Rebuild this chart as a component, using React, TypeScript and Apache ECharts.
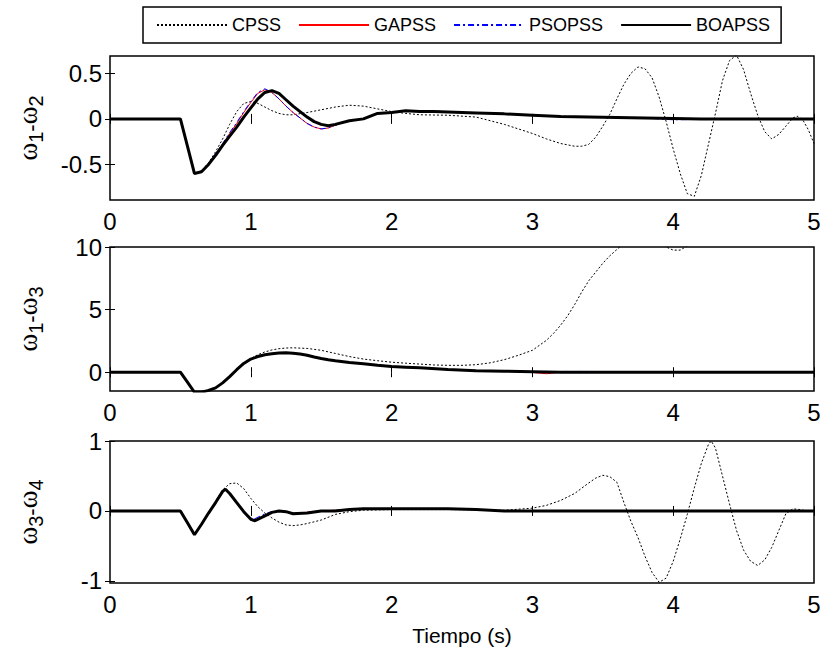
import React, { useEffect, useRef } from 'react';
import * as echarts from 'echarts';

const FONT = "'Liberation Sans', Arial, Helvetica, sans-serif";

// ---------- Panel 1 : w1 - w2 ----------
const T1 = [0, 0.5, 0.55, 0.6, 0.65, 0.7, 0.75, 0.8, 0.85, 0.9, 0.95, 1.0, 1.05, 1.1, 1.15, 1.2, 1.25, 1.3, 1.35, 1.4, 1.45, 1.5, 1.55, 1.6, 1.7, 1.8, 1.9, 2.0, 2.1, 2.2, 2.3, 2.4, 2.6, 2.8, 3.0, 3.2, 3.4, 3.6, 3.8, 4.0, 4.2, 4.5, 5.0];
const BOA1 = [0, 0, -0.3, -0.6, -0.58, -0.5, -0.4, -0.29, -0.19, -0.09, 0.02, 0.12, 0.22, 0.29, 0.31, 0.28, 0.21, 0.14, 0.08, 0.02, -0.03, -0.06, -0.075, -0.06, -0.02, 0.0, 0.06, 0.07, 0.09, 0.08, 0.08, 0.075, 0.065, 0.055, 0.04, 0.025, 0.02, 0.015, 0.01, 0.005, 0, 0, 0];
const GA1 = [0, 0, -0.3, -0.6, -0.58, -0.49, -0.39, -0.28, -0.16, -0.05, 0.07, 0.18, 0.28, 0.32, 0.29, 0.22, 0.14, 0.07, 0.01, -0.05, -0.09, -0.11, -0.1, -0.07, -0.02, 0.0, 0.06, 0.07, 0.09, 0.08, 0.08, 0.075, 0.065, 0.055, 0.04, 0.025, 0.02, 0.015, 0.01, 0.005, 0, 0, 0];
const PSO1 = [0, 0, -0.3, -0.6, -0.58, -0.49, -0.38, -0.27, -0.15, -0.04, 0.08, 0.19, 0.29, 0.33, 0.29, 0.22, 0.14, 0.07, 0.01, -0.05, -0.09, -0.11, -0.1, -0.07, -0.02, 0.0, 0.06, 0.07, 0.09, 0.085, 0.09, 0.075, 0.065, 0.055, 0.04, 0.03, 0.02, 0.015, 0.01, -0.01, -0.005, 0, 0];
const TC1 = [0, 0.5, 0.55, 0.6, 0.65, 0.7, 0.75, 0.8, 0.85, 0.9, 0.95, 1.0, 1.05, 1.1, 1.15, 1.2, 1.25, 1.3, 1.4, 1.5, 1.6, 1.7, 1.8, 1.9, 2.0, 2.1, 2.2, 2.4, 2.6, 2.7, 2.8, 2.9, 3.0, 3.1, 3.2, 3.3, 3.35, 3.4, 3.45, 3.5, 3.55, 3.6, 3.65, 3.7, 3.75, 3.8, 3.85, 3.9, 3.95, 4.0, 4.05, 4.1, 4.15, 4.2, 4.25, 4.3, 4.35, 4.4, 4.45, 4.5, 4.55, 4.6, 4.65, 4.7, 4.75, 4.8, 4.85, 4.88, 4.92, 4.96, 5.0];
const CPSS1 = [0, 0, -0.3, -0.6, -0.57, -0.48, -0.36, -0.22, -0.06, 0.08, 0.17, 0.19, 0.17, 0.13, 0.09, 0.06, 0.045, 0.045, 0.07, 0.1, 0.13, 0.15, 0.14, 0.11, 0.08, 0.06, 0.045, 0.04, 0.02, -0.02, -0.06, -0.11, -0.16, -0.22, -0.27, -0.3, -0.3, -0.28, -0.2, -0.08, 0.05, 0.22, 0.38, 0.5, 0.57, 0.55, 0.45, 0.24, -0.03, -0.33, -0.6, -0.82, -0.85, -0.62, -0.28, 0.06, 0.42, 0.64, 0.7, 0.54, 0.28, 0.04, -0.14, -0.22, -0.17, -0.08, 0.01, 0.03, -0.01, -0.12, -0.27];

// ---------- Panel 2 : w1 - w3 ----------
const T2 = [0, 0.5, 0.55, 0.6, 0.65, 0.7, 0.75, 0.8, 0.85, 0.9, 0.95, 1.0, 1.05, 1.1, 1.15, 1.2, 1.25, 1.3, 1.35, 1.4, 1.45, 1.5, 1.55, 1.6, 1.7, 1.8, 1.9, 2.0, 2.1, 2.2, 2.4, 2.6, 2.8, 3.0, 3.1, 3.2, 3.4, 3.55, 3.6, 4.0, 5.0];
const BOA2 = [0, 0, -0.8, -1.6, -1.6, -1.45, -1.25, -0.85, -0.35, 0.2, 0.7, 1.05, 1.25, 1.4, 1.48, 1.53, 1.55, 1.52, 1.45, 1.35, 1.22, 1.1, 1.0, 0.92, 0.78, 0.68, 0.55, 0.45, 0.4, 0.35, 0.22, 0.12, 0.08, 0.04, 0.02, 0, 0, 0, 0, 0, 0];
const GA2 = [0, 0, -0.8, -1.6, -1.6, -1.45, -1.25, -0.85, -0.35, 0.2, 0.7, 1.05, 1.25, 1.4, 1.48, 1.53, 1.55, 1.52, 1.45, 1.35, 1.22, 1.1, 1.0, 0.92, 0.78, 0.68, 0.55, 0.45, 0.4, 0.35, 0.22, 0.12, 0.08, -0.02, -0.12, 0, 0, 0, 0, 0, 0];
const PSO2 = [0, 0, -0.8, -1.6, -1.6, -1.45, -1.25, -0.85, -0.35, 0.2, 0.7, 1.05, 1.25, 1.4, 1.48, 1.53, 1.55, 1.52, 1.45, 1.35, 1.22, 1.1, 1.0, 0.92, 0.78, 0.68, 0.55, 0.45, 0.4, 0.35, 0.22, 0.12, 0.08, 0.04, 0.02, 0.06, 0.06, 0.05, 0, 0, 0];
const TC2 = [0, 0.5, 0.55, 0.6, 0.65, 0.7, 0.75, 0.8, 0.85, 0.9, 0.95, 1.0, 1.05, 1.1, 1.15, 1.2, 1.25, 1.3, 1.4, 1.5, 1.6, 1.7, 1.8, 1.9, 2.0, 2.1, 2.2, 2.3, 2.4, 2.5, 2.6, 2.7, 2.8, 2.9, 3.0, 3.1, 3.15, 3.2, 3.25, 3.3, 3.35, 3.4, 3.45, 3.5, 3.55, 3.6, 3.65, 3.7, 3.8, 3.9, 3.95, 4.0, 4.05, 4.1, 4.2, 4.4, 4.7, 5.0];
const CPSS2 = [0, 0, -0.8, -1.6, -1.6, -1.45, -1.25, -0.85, -0.35, 0.2, 0.7, 1.1, 1.4, 1.62, 1.78, 1.88, 1.93, 1.95, 1.9, 1.75, 1.5, 1.25, 1.05, 0.92, 0.8, 0.72, 0.65, 0.58, 0.55, 0.55, 0.6, 0.75, 1.0, 1.35, 1.75, 2.55, 3.1, 3.75, 4.5, 5.4, 6.4, 7.3, 8.0, 8.7, 9.3, 9.8, 10.3, 10.9, 11.2, 10.6, 10.0, 9.75, 9.75, 10.1, 11.0, 12.5, 14.0, 15.0];

// ---------- Panel 3 : w3 - w4 ----------
const T3 = [0, 0.5, 0.55, 0.6, 0.65, 0.7, 0.75, 0.8, 0.82, 0.85, 0.9, 0.95, 1.0, 1.03, 1.1, 1.15, 1.2, 1.25, 1.3, 1.4, 1.5, 1.6, 1.7, 1.8, 2.0, 2.2, 2.4, 2.6, 2.8, 3.0, 5.0];
const BOA3 = [0, 0, -0.17, -0.34, -0.19, -0.03, 0.12, 0.28, 0.31, 0.25, 0.12, -0.01, -0.12, -0.14, -0.07, -0.02, 0.0, -0.01, -0.04, -0.03, 0.0, 0.0, 0.02, 0.03, 0.03, 0.03, 0.03, 0.02, 0.0, 0, 0];
const GA3 = [0, 0, -0.17, -0.34, -0.19, -0.03, 0.13, 0.29, 0.31, 0.26, 0.11, -0.02, -0.11, -0.13, -0.06, -0.02, 0.0, -0.01, -0.03, -0.02, 0.0, 0.01, 0.02, 0.03, 0.03, 0.03, 0.03, 0.02, 0.0, 0, 0];
const PSO3 = [0, 0, -0.17, -0.34, -0.19, -0.03, 0.13, 0.29, 0.31, 0.26, 0.11, -0.03, -0.1, -0.11, -0.04, -0.01, 0.0, -0.02, -0.03, -0.02, 0.0, 0.01, 0.02, 0.03, 0.03, 0.03, 0.03, 0.02, 0.0, 0, 0];
const TC3 = [0, 0.5, 0.55, 0.6, 0.65, 0.7, 0.75, 0.8, 0.85, 0.9, 0.95, 1.0, 1.05, 1.1, 1.15, 1.2, 1.25, 1.3, 1.35, 1.4, 1.5, 1.6, 1.7, 1.8, 2.0, 2.4, 2.8, 3.0, 3.1, 3.2, 3.3, 3.4, 3.45, 3.5, 3.55, 3.6, 3.65, 3.7, 3.75, 3.8, 3.85, 3.9, 3.95, 4.0, 4.05, 4.1, 4.15, 4.2, 4.25, 4.27, 4.3, 4.35, 4.4, 4.45, 4.5, 4.55, 4.6, 4.65, 4.7, 4.75, 4.8, 4.85, 4.9, 4.95, 5.0];
const CPSS3 = [0, 0, -0.17, -0.34, -0.19, -0.03, 0.14, 0.3, 0.39, 0.4, 0.32, 0.18, 0.06, -0.03, -0.1, -0.16, -0.2, -0.21, -0.2, -0.18, -0.13, -0.05, -0.01, 0.01, 0.02, 0.02, 0.01, 0.04, 0.08, 0.15, 0.25, 0.4, 0.47, 0.51, 0.49, 0.41, 0.12, -0.15, -0.38, -0.65, -0.88, -1.02, -0.96, -0.72, -0.4, -0.05, 0.33, 0.68, 0.95, 1.0, 0.9, 0.5, 0.1, -0.28, -0.56, -0.72, -0.78, -0.7, -0.52, -0.28, -0.04, 0.03, 0.02, 0, 0];

// ---------- axes ----------
const X_TICKS = [0, 1, 2, 3, 4, 5];
const Y_RANGES = [[-0.89, 0.69], [-1.5, 10], [-1.03, 1]];
const Y_TICKS = [[-0.5, 0, 0.5], [0, 5, 10], [-1, 0, 1]];
const Y_NAMES = [['1', '2'], ['1', '3'], ['3', '4']];
const LEGEND = ['CPSS', 'GAPSS', 'PSOPSS', 'BOAPSS'];
const X_NAME = 'Tiempo (s)';

const GRIDS = [
  { left: 107, top: 56, width: 707, height: 144 },
  { left: 107, top: 247, width: 707, height: 144 },
  { left: 107, top: 441, width: 707, height: 142 },
];

const zip = (t: number[], v: number[]) => t.map((x, i) => [x, v[i]]);

const PANELS = [
  { tc: TC1, cpss: CPSS1, t: T1, ga: GA1, pso: PSO1, boa: BOA1 },
  { tc: TC2, cpss: CPSS2, t: T2, ga: GA2, pso: PSO2, boa: BOA2 },
  { tc: TC3, cpss: CPSS3, t: T3, ga: GA3, pso: PSO3, boa: BOA3 },
];

function buildOption() {
  const tick = { inside: true, length: 5, lineStyle: { color: '#000', width: 1 } };
  const xAxis: any[] = [];
  const yAxis: any[] = [];
  const series: any[] = [];
  GRIDS.forEach((_, i) => {
    const isLast = i === GRIDS.length - 1;
    xAxis.push({
      type: 'value', gridIndex: i, min: 0, max: 5, interval: 1, position: 'bottom',
      axisLine: { show: false }, splitLine: { show: false },
      axisTick: { ...tick, customValues: X_TICKS },
      axisLabel: { customValues: X_TICKS, fontSize: 24, color: '#000', fontFamily: FONT, margin: 9 },
      name: isLast ? X_NAME : '', nameLocation: 'middle', nameGap: 42,
      nameTextStyle: { fontSize: 21, color: '#000', fontFamily: FONT },
    });
    xAxis.push({
      type: 'value', gridIndex: i, min: 0, max: 5, interval: 1, position: 'top',
      axisLine: { show: false }, splitLine: { show: false },
      axisTick: { ...tick, customValues: X_TICKS }, axisLabel: { show: false },
    });
    const [lo, hi] = Y_RANGES[i];
    const [a, b] = Y_NAMES[i];
    yAxis.push({
      type: 'value', gridIndex: i, min: lo, max: hi, position: 'left',
      axisLine: { show: false }, splitLine: { show: false },
      axisTick: { ...tick, customValues: Y_TICKS[i] },
      axisLabel: { customValues: Y_TICKS[i], fontSize: 24, color: '#000', fontFamily: FONT, margin: 8 },
      name: `{w|ω}{s|${a}}{m|-}{w|ω}{s|${b}}`,
      nameLocation: 'middle', nameRotate: 90, nameGap: 70,
      nameTextStyle: {
        rich: {
          w: { fontSize: 27, fontFamily: "'Liberation Serif', 'DejaVu Serif', serif", color: '#000', lineHeight: 26, verticalAlign: 'top' },
          m: { fontSize: 22, fontFamily: FONT, color: '#000', lineHeight: 16, padding: [8, 0, 0, 0] },
          s: { fontSize: 20, fontFamily: FONT, color: '#000', lineHeight: 18, padding: [18, 0, 0, 0] },
        },
      },
    });
    yAxis.push({
      type: 'value', gridIndex: i, min: lo, max: hi, position: 'right',
      axisLine: { show: false }, splitLine: { show: false },
      axisTick: { ...tick, customValues: Y_TICKS[i] }, axisLabel: { show: false },
    });
    const p = PANELS[i];
    const common = { type: 'line', xAxisIndex: 2 * i, yAxisIndex: 2 * i, symbol: 'none', clip: true };
    series.push({ ...common, name: 'CPSS', data: zip(p.tc, p.cpss), lineStyle: { color: '#000', width: 1, type: [2, 2] }, itemStyle: { color: '#000' } });
    series.push({ ...common, name: 'GAPSS', data: zip(p.t, p.ga), lineStyle: { color: '#ff0000', width: 1, type: 'solid' }, itemStyle: { color: '#ff0000' } });
    series.push({ ...common, name: 'PSOPSS', data: zip(p.t, p.pso), lineStyle: { color: '#0000ff', width: 1, type: [6, 3, 2, 3] }, itemStyle: { color: '#0000ff' } });
    series.push({ ...common, name: 'BOAPSS', data: zip(p.t, p.boa), lineStyle: { color: '#000', width: 3, type: 'solid' }, itemStyle: { color: '#000' } });
  });

  return {
    animation: false,
    backgroundColor: '#fff',
    textStyle: { fontFamily: FONT },
    legend: {
      data: LEGEND,
      left: 143, top: 7,
      orient: 'horizontal',
      itemWidth: 70, itemHeight: 14, itemGap: 17,
      padding: [9, 11, 9, 13],
      borderColor: '#000', borderWidth: 1.5,
      itemStyle: { opacity: 0 },
      textStyle: { fontSize: 18, color: '#000', fontFamily: FONT },
      selectedMode: false,
    },
    grid: GRIDS.map((g) => ({ ...g, show: true, borderColor: '#000', borderWidth: 1.5, backgroundColor: 'transparent', containLabel: false })),
    xAxis,
    yAxis,
    series,
  };
}

export default function App() {
  const ref = useRef<HTMLDivElement>(null);
  useEffect(() => {
    const chart = echarts.init(ref.current!, null, { renderer: 'svg' });
    chart.setOption(buildOption() as any);
    return () => chart.dispose();
  }, []);
  return (
    <div
      ref={ref}
      style={{ position: 'fixed', left: 0, top: 0, width: 825, height: 656, background: '#fff' }}
    />
  );
}
